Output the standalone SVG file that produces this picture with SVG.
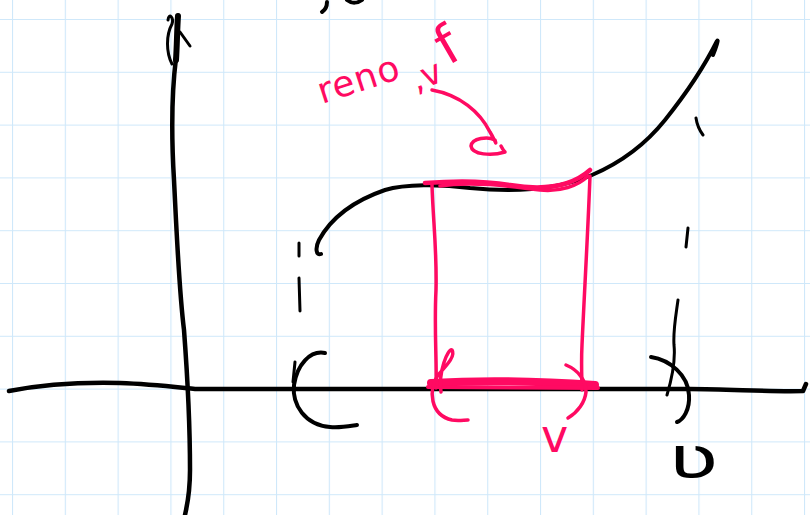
<svg xmlns="http://www.w3.org/2000/svg" width="810" height="515" viewBox="0 0 810 515">
<defs>
<pattern id="grid" x="12" y="19" width="52.8" height="52.8" patternUnits="userSpaceOnUse">
<path d="M0,0 V52.8 M0,0 H52.8" fill="none" stroke="#cfe8fa" stroke-width="2.2"/>
</pattern>
</defs>
<style>
.ink{fill:none;stroke:#000;stroke-width:4;stroke-linecap:round;stroke-linejoin:round}
.thin{fill:none;stroke:#000;stroke-width:3;stroke-linecap:round}
.pk{fill:none;stroke:#ff0a62;stroke-width:3.5;stroke-linecap:round;stroke-linejoin:round}
.pkt{fill:#ff0a62;font-family:"DejaVu Sans",sans-serif}
.bkt{fill:#000;font-family:"DejaVu Sans",sans-serif}
</style>
<rect width="810" height="515" fill="#fff"/>
<rect width="810" height="515" fill="url(#grid)"/>
<g id="axes">
<path class="ink" style="stroke-width:4.5" d="M176,58 C172,90 171,130 174,180 C177,240 179,290 184,330 C187,370 190,420 190,470 C190,495 187,505 185,515"/>
<path class="ink" style="stroke-width:6" d="M178,16 C177,30 177,45 176,60"/>
<path class="thin" d="M172,64 C166,52 166,35 172,24 C174,18 169,12 168,20"/>
<path class="thin" d="M180,32 L190,46"/>
<path class="ink" style="stroke-width:4.5" d="M9,391 C40,385 80,382 120,383 C150,384 175,387 195,389 L690,389 C730,389 770,392 803,391 L806,384"/>
</g>
<g id="curve">
<path class="ink" d="M321,254 C316,256 315,248 319,240 C330,220 350,202 385,190 C405,184 440,184 470,188 C510,192 555,191 592,175 C620,163 645,145 665,120 C685,95 705,65 717,41 C719,38 716,48 713,55"/>
</g>
<g id="dashes">
<path class="thin" d="M299,243 L299,256 M299,278 L300,311"/>
<path class="thin" d="M696,118 C697,125 700,131 703,135 M688,228 L686,247 M678,300 C676,315 673,330 674,345 C676,365 670,385 667,395"/>
</g>
<g id="brackets">
<path class="ink" d="M325,353 C310,350 297,365 294,385 C292,405 305,425 330,427 C340,428 350,426 357,425"/>
<path class="thin" d="M295,362 L293,382"/>
<path class="ink" d="M651,357 C670,360 688,375 689,395 C690,410 683,420 677,422"/>
</g>
<g id="topfrag">
<path class="ink" d="M327,2 C327,7 325,10 322,12"/>
<path class="ink" d="M347,0 C352,4 358,3 362,0"/>
</g>
<g id="region">
<path class="pk" d="M432,185 C433,220 437,250 436,290 C434,330 437,360 436,388"/>
<path class="pk" d="M590,176 C588,230 584,300 582,345 C581,365 582,380 582,390"/>
<path class="pk" style="stroke-width:4.5" d="M425,183 C450,181 480,180 510,185 C540,190 570,188 590,170"/>
<path class="pk" d="M440,186 C470,181 510,186 540,190 C560,192 578,186 588,176"/>
<path class="pk" style="stroke-width:8" d="M431,383 C480,380 540,381 595,385"/>
<path class="pk" style="stroke-width:4" d="M428,387 L598,388"/>
<path class="pk" d="M441,392 C438,372 448,348 452,350 C456,356 446,366 438,375 C428,390 430,415 452,420 C458,421 464,420 468,420"/>
<path class="pk" d="M566,365 C578,370 586,380 586,392 C585,402 578,412 568,418"/>
<path class="pk" d="M432,90 C460,95 480,112 490,132 C495,140 497,147 495,140 C488,136 472,138 471,146 C472,155 492,156 505,152 C503,150 502,148 501,146"/>
</g>
<g id="labels">
<text class="pkt" x="322" y="104" font-size="36" letter-spacing="1" transform="rotate(-18 322 104)">reno</text>
<text class="pkt" x="416" y="92" font-size="34" transform="rotate(-22 416 92)">,v</text>
<text class="pkt" x="448" y="66" font-size="54" transform="rotate(-30 448 66)">f</text>
<text class="pkt" x="541" y="452" font-size="46">v</text>
<text class="bkt" font-size="56" transform="translate(668,478) scale(1.5,1.05)">ʋ</text>
</g>
</svg>
